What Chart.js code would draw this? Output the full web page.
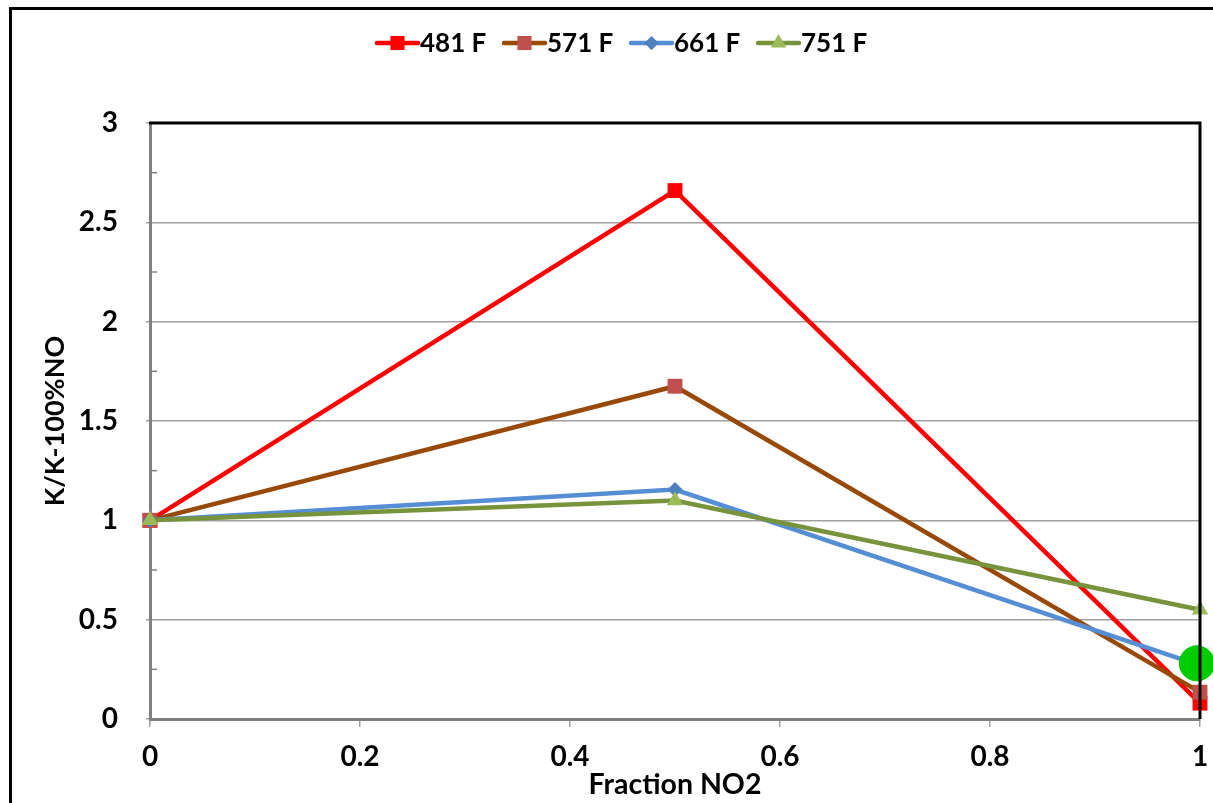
<!DOCTYPE html>
<html>
<head>
<meta charset="utf-8">
<script src="https://cdn.jsdelivr.net/npm/chart.js@4.4.1/dist/chart.umd.min.js"></script>
<style>
html,body{margin:0;padding:0;background:#fff;}
#wrap{width:1213px;height:803px;position:relative;}
</style>
</head>
<body>
<div id="wrap"><canvas id="c" width="1213" height="803"></canvas></div>
<script>
// ---- data ----
const fractionNO2 = [0, 0.5, 1];
const k481 = [1, 2.66, 0.08];
const k571 = [1, 1.675, 0.135];
const k661 = [1, 1.155, 0.27];
const k751 = [1, 1.10, 0.55];
const seriesNames = ['481 F', '571 F', '661 F', '751 F'];
const highlightPoint = [{x: 0.997, y: 0.28}];
const xTicks = [0, 0.2, 0.4, 0.6, 0.8, 1];
const yTicks = [0, 0.5, 1, 1.5, 2, 2.5, 3];

const FONT = 'Lato, "Open Sans", sans-serif';
const pts = arr => arr.map((v, i) => ({x: fractionNO2[i], y: v}));

const styles = [
  {line: '#ff0000', fill: '#ff0000', style: 'rect', r: 10.5},
  {line: '#984807', fill: '#c0504d', style: 'rect', r: 10.5},
  {line: '#558ed5', fill: '#4f81bd', style: 'rectRot', r: 7.5},
  {line: '#77933c', fill: '#9bbb59', style: 'triangle', r: 9.5}
];
const values = [k481, k571, k661, k751];

const datasets = values.map((v, i) => ({
  label: seriesNames[i],
  data: pts(v),
  showLine: true,
  borderColor: styles[i].line,
  borderWidth: 4.5,
  backgroundColor: styles[i].fill,
  pointBackgroundColor: styles[i].fill,
  pointBorderColor: styles[i].fill,
  pointBorderWidth: 0,
  pointStyle: styles[i].style,
  pointRadius: styles[i].r,
  pointHoverRadius: styles[i].r,
  tension: 0,
  clip: false,
  order: 4 - i
}));
datasets.push({
  label: 'highlight',
  data: highlightPoint,
  showLine: false,
  pointStyle: 'circle',
  pointRadius: 18,
  pointHoverRadius: 18,
  pointBackgroundColor: '#00cc00',
  pointBorderColor: '#00cc00',
  pointBorderWidth: 0,
  clip: false,
  order: 0
});

const decor = {
  id: 'decor',
  afterDraw(chart) {
    const ctx = chart.ctx;
    const {left, right, top, bottom} = chart.chartArea;
    const ys = chart.scales.y;
    ctx.save();
    // outer frame
    ctx.strokeStyle = '#000';
    ctx.lineWidth = 3;
    ctx.strokeRect(10.5, 8.5, 1400, 1000);
    // top & right plot borders
    ctx.beginPath();
    ctx.moveTo(left - 1, top);
    ctx.lineTo(right, top);
    ctx.lineTo(right, bottom);
    ctx.stroke();
    // minor ticks on y axis
    ctx.strokeStyle = '#808080';
    ctx.lineWidth = 1.5;
    for (let v = 0.25; v < 3; v += 0.5) {
      const py = ys.getPixelForValue(v);
      ctx.beginPath();
      ctx.moveTo(left, py);
      ctx.lineTo(left + 7, py);
      ctx.stroke();
    }
    // legend
    ctx.font = 'bold 26px ' + FONT;
    ctx.textBaseline = 'middle';
    const ly = 43;
    chart.data.datasets.slice(0, 4).forEach((ds, i) => {
      const x0 = 377 + i * 127;
      ctx.strokeStyle = ds.borderColor;
      ctx.lineWidth = 4.5;
      ctx.lineCap = 'round';
      ctx.beginPath();
      ctx.moveTo(x0, ly);
      ctx.lineTo(x0 + 41, ly);
      ctx.stroke();
      ctx.fillStyle = ds.pointBackgroundColor;
      ctx.strokeStyle = ds.pointBackgroundColor;
      Chart.helpers.drawPoint(ctx, {pointStyle: ds.pointStyle, radius: ds.pointRadius * 0.95, borderWidth: 0, rotation: 0}, x0 + 20.5, ly);
      ctx.fillStyle = '#000';
      ctx.textAlign = 'left';
      ctx.fillText(ds.label, x0 + 43, ly + 1);
    });
    ctx.restore();
  }
};

new Chart(document.getElementById('c'), {
  type: 'scatter',
  data: {datasets},
  options: {
    responsive: false,
    animation: false,
    events: [],
    layout: {autoPadding: false, padding: {top: 123, right: 13, left: 0, bottom: 0}},
    plugins: {legend: {display: false}, tooltip: {enabled: false}},
    scales: {
      x: {
        type: 'linear',
        min: 0, max: 1,
        afterFit(s) { s.height = 84; s.paddingLeft = 0; s.paddingRight = 0; },
        afterBuildTicks(s) { s.ticks = xTicks.map(v => ({value: v})); },
        border: {color: '#808080', width: 3},
        grid: {drawOnChartArea: false, drawTicks: true, tickLength: 8, color: '#a0a0a0', lineWidth: 1.5},
        ticks: {
          padding: 13,
          color: '#000',
          font: {family: FONT, size: 28, weight: 'bold'},
          callback: v => String(v)
        },
        title: {
          display: true,
          text: 'Fraction NO2',
          color: '#000',
          font: {family: FONT, size: 28.5, weight: 'bold', lineHeight: 1},
          padding: {top: 0, bottom: 4}
        }
      },
      y: {
        type: 'linear',
        min: 0, max: 3,
        afterFit(s) { s.width = 150; s.paddingTop = 0; s.paddingBottom = 0; },
        afterBuildTicks(s) { s.ticks = yTicks.map(v => ({value: v})); },
        border: {color: '#808080', width: 3},
        grid: {drawTicks: true, tickLength: 4, color: '#a0a0a0', lineWidth: 1.5},
        ticks: {
          padding: 28,
          color: '#000',
          font: {family: FONT, size: 28, weight: 'bold'},
          callback: v => String(v)
        },
        title: {
          display: true,
          text: 'K/K-100%NO',
          color: '#000',
          font: {family: FONT, size: 27, weight: 'bold', lineHeight: 1.2},
          padding: {top: 39, bottom: 0}
        }
      }
    }
  },
  plugins: [decor]
});
</script>
</body>
</html>
